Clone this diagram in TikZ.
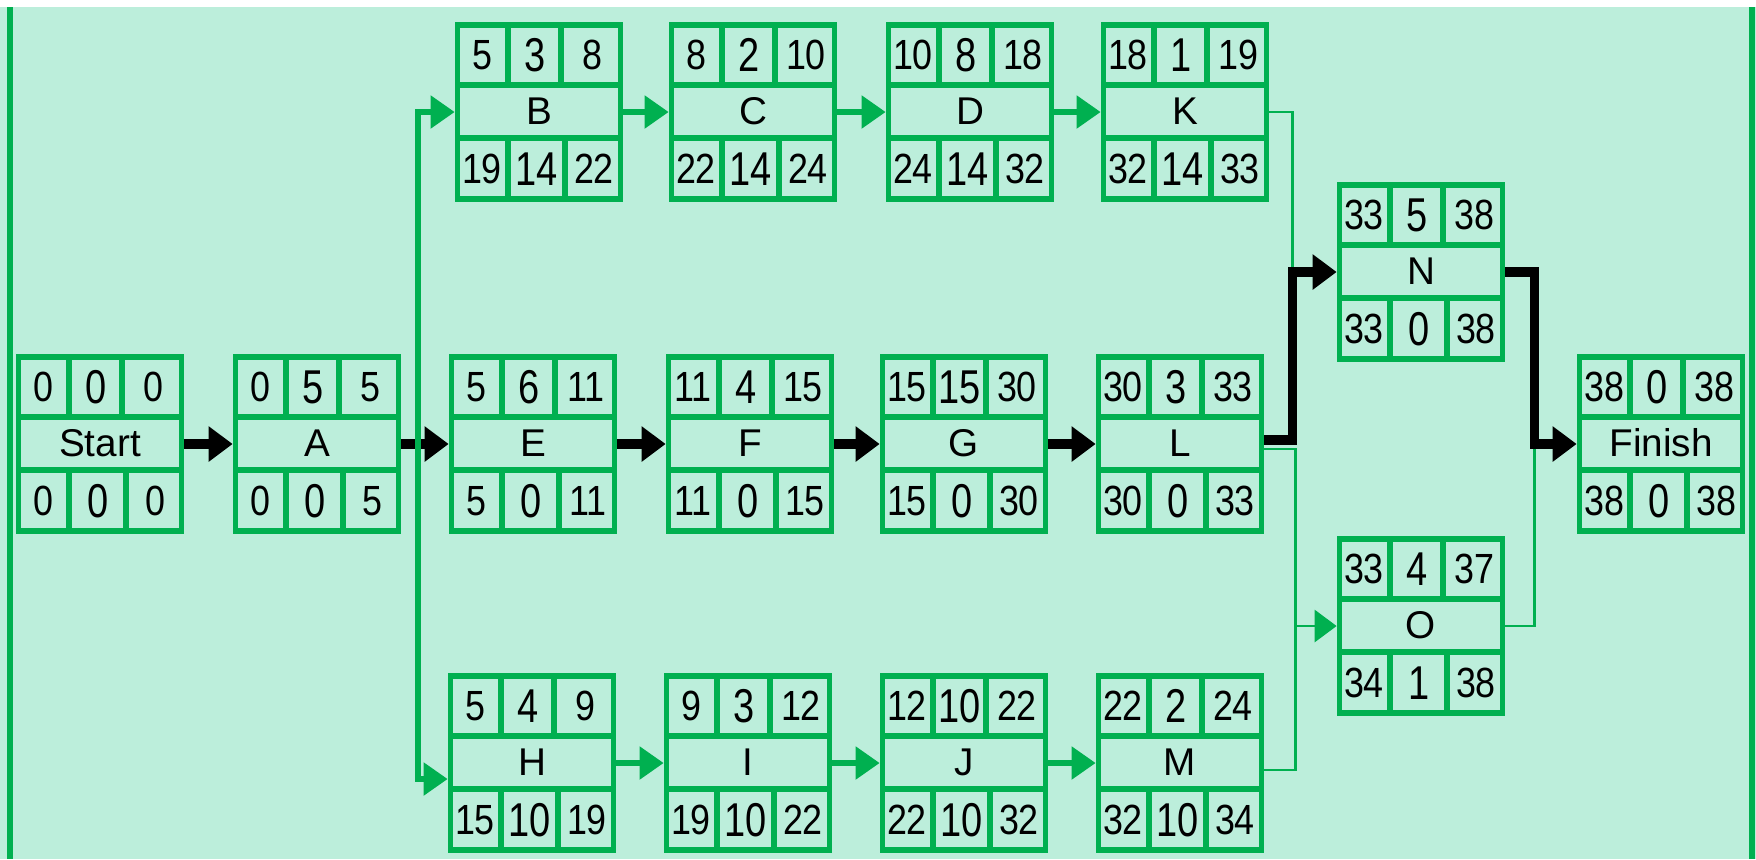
\documentclass[tikz,border=0pt]{standalone}
\usepackage{fontspec}
\setmainfont{Liberation Sans}
\newfontfamily\numfont[FakeStretch=0.85]{Liberation Sans}
\newfontfamily\midfont[FakeStretch=0.8]{Liberation Sans}
\usetikzlibrary{arrows.meta}

\definecolor{boxgreen}{RGB}{0,176,80}
\definecolor{mint}{RGB}{188,238,219}

% activity box: name, centre, label, ES D EF, LS SL LF
\newcommand{\actbox}[9]{%
  \node[actbox] (#1) at (#2) {};
  \begin{scope}[shift={(#2)}]
    \draw[cellline] (-81.5,-27) -- (81.5,-27) (-81.5,26) -- (81.5,26)
      (-31,-87) -- (-31,-27) (22,-87) -- (22,-27)
      (-31,26) -- (-31,87) (26,26) -- (26,87);
    \node[actname] (#1-name) at (0,-1) {#3};
    \node[num] (#1-es) at (-57,-57) {#4};
    \node[midnum] (#1-d) at (-4,-57) {#5};
    \node[num] (#1-ef) at (53,-57) {#6};
    \node[num] (#1-ls) at (-57,57) {#7};
    \node[midnum] (#1-sl) at (-2,57) {#8};
    \node[num] (#1-lf) at (55,57) {#9};
  \end{scope}}

\begin{document}
\begin{tikzpicture}[
    x=0.01cm, y=-0.01cm,
    actbox/.style={
      draw=boxgreen, line width=1.6pt, inner sep=0pt,
      minimum width=1.63cm, minimum height=1.74cm
    },
    cellline/.style={draw=boxgreen, line width=1.6pt},
    actname/.style={inner sep=0pt, font=\fontsize{11}{11}\selectfont},
    num/.style={inner sep=0pt, font=\numfont\fontsize{12}{12}\selectfont},
    midnum/.style={inner sep=0pt, font=\midfont\fontsize{13.5}{13.5}\selectfont},
    crit/.style={draw=black, line width=2.6pt, -{Triangle[length=0.24cm, width=0.34cm]}},
    gmain/.style={draw=boxgreen, line width=1.5pt, -{Triangle[length=0.24cm, width=0.32cm]}},
    gthin/.style={draw=boxgreen, line width=0.8pt},
    gthinarrow/.style={gthin, -{Triangle[length=0.22cm, width=0.32cm]}}
  ]
    \useasboundingbox (0,0) rectangle (1756,859);
    \fill[white] (0,0) rectangle (1756,859);
    \fill[mint] (0,7) rectangle (1756,859);
    \draw[boxgreen, line width=1.7pt] (10,7) -- (10,859) (1752,7) -- (1752,859);

    % middle row
    \actbox{start}{100,444}{Start}{0}{0}{0}{0}{0}{0}
    \actbox{a}{317,444}{A}{0}{5}{5}{0}{0}{5}
    \actbox{e}{533,444}{E}{5}{6}{11}{5}{0}{11}
    \actbox{f}{750,444}{F}{11}{4}{15}{11}{0}{15}
    \actbox{g}{964,444}{G}{15}{15}{30}{15}{0}{30}
    \actbox{l}{1180,444}{L}{30}{3}{33}{30}{0}{33}
    % top row
    \actbox{b}{539,112}{B}{5}{3}{8}{19}{14}{22}
    \actbox{c}{753,112}{C}{8}{2}{10}{22}{14}{24}
    \actbox{d}{970,112}{D}{10}{8}{18}{24}{14}{32}
    \actbox{k}{1185,112}{K}{18}{1}{19}{32}{14}{33}
    % bottom row
    \actbox{h}{532,763}{H}{5}{4}{9}{15}{10}{19}
    \actbox{i}{748,763}{I}{9}{3}{12}{19}{10}{22}
    \actbox{j}{964,763}{J}{12}{10}{22}{22}{10}{32}
    \actbox{m}{1180,763}{M}{22}{2}{24}{32}{10}{34}
    % end
    \actbox{n}{1421,272}{N}{33}{5}{38}{33}{0}{38}
    \actbox{o}{1421,626}{O}{33}{4}{37}{34}{1}{38}
    \actbox{fin}{1661,444}{Finish}{38}{0}{38}{38}{0}{38}

    % non-critical links
    \draw[gthin] ([yshift=-0.05cm]l.east) -- ++(31,0) coordinate (lo) |- ([yshift=-0.07cm]m.east);
    \draw[gthinarrow] (lo |- o.west) -- (o.west);
    \draw[gmain] (b) -- (c);
    \draw[gmain] (c) -- (d);
    \draw[gmain] (d) -- (k);
    \draw[gmain] (h) -- (i);
    \draw[gmain] (i) -- (j);
    \draw[gmain] (j) -- (m);

    % critical path
    \draw[crit] (start) -- (a);
    \draw[crit] (a) -- (e);
    \draw[crit] (e) -- (f);
    \draw[crit] (f) -- (g);
    \draw[crit] (g) -- (l);
    \draw[crit] ([yshift=0.04cm]l.east) -- ++(28,0) coordinate (ln) |- (n.west);
    \draw[crit] (n.east) -- ++(29,0) coordinate (nf) |- (fin.west);
    \draw[gthin] (k.east) -| ([yshift=0.05cm]ln |- n.west);
    \draw[gthin] (o.east) -| ([yshift=-0.05cm]nf |- fin.west);

    % split after A
    \coordinate (asplit) at ([xshift=0.165cm]a.east);
    \draw[gmain] (asplit) |- (b.west);
    \draw[gmain] (asplit) |- ([yshift=-0.16cm]h.west);
  \end{tikzpicture}
\end{document}
